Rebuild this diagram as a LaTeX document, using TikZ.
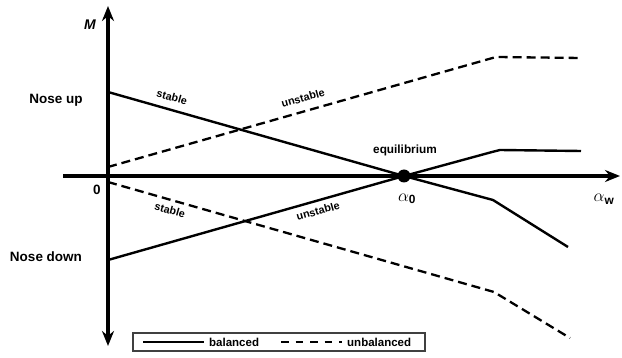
\documentclass[tikz,border=0pt]{standalone}
\usepackage{fontspec}
\setmainfont{Liberation Sans}
\usetikzlibrary{arrows.meta}
\begin{document}
\begin{tikzpicture}[x=1pt,y=-1pt,
  axis/.style={line width=3.4pt,-{Stealth[length=15pt,width=12pt]}},
  bal/.style={line width=2.4pt},
  unbal/.style={line width=2.3pt,dash pattern=on 9pt off 5pt},
  lbl/.style={font=\fontsize{10.8}{12}\selectfont\bfseries,inner sep=0pt},
  big/.style={font=\fontsize{13.5}{15}\selectfont\bfseries,inner sep=0pt},
  greek/.style={font=\fontsize{17}{18}\selectfont,inner sep=0pt}]
\useasboundingbox (0,0) rectangle (622,358);
% coordinates
\coordinate (O) at (108,176);
\coordinate (E) at (404,176);
\coordinate (xl) at (63,176);
\coordinate (xr) at (620,176);
\coordinate (yb) at (108,346);
\coordinate (yt) at (108,6);
\coordinate (su0) at (108,92);
\coordinate (su1) at (493,200);
\coordinate (su2) at (568,247);
\coordinate (uu0) at (108,260);
\coordinate (uu1) at (492,152);
\coordinate (uu2) at (500,150);
\coordinate (uu3) at (581,151);
\coordinate (du0) at (108,167);
\coordinate (du1) at (496,57);
\coordinate (du2) at (582,58);
\coordinate (dl0) at (108,182);
\coordinate (dl1) at (494,292);
\coordinate (dl2) at (570,338);
% axes
\draw[line width=3.4pt] (xl) -- (O);
\draw[axis] (O) -- (xr);
\draw[axis] (O) -- (yt);
\draw[axis] (O) -- (yb);
% curves
\draw[bal,line join=round] (su0) -- (E) -- (su1) -- (su2);
\draw[bal,line join=round] (uu0) -- (E) -- (uu1) -- (uu2) -- (uu3);
\draw[unbal,line join=round] (du0) -- (du1) -- (du2);
\draw[unbal,line join=round] (dl0) -- (dl1) -- (dl2);
\fill (E) circle (6.5pt);
% labels
\node[font=\fontsize{14}{15}\selectfont\bfseries\itshape,inner sep=0pt] (M) at (90,25) {M};
\node[big] (nu) at (56,100) {Nose up};
\node[big] (nd) at (46,257) {Nose down};
\node[big] (zero) at (97,190) {0};
\node[lbl,rotate=-15.8] (s1) at (172,97) {stable};
\node[lbl,rotate=15.8] (u1) at (303,98) {unstable};
\node[lbl,rotate=-15.8] (s2) at (170,210) {stable};
\node[lbl,rotate=15.8] (u2) at (318,211) {unstable};
\node[lbl,font=\fontsize{11.8}{13}\selectfont\bfseries] (eq) at (405,150) {equilibrium};
\node[greek] (a0) at (407,199) {$\alpha_{\mathbf{0}}$};
\node[greek] (aw) at (604,199) {$\alpha_{\mathbf{w}}$};
% legend
\node[draw=black!75,line width=1.4pt,minimum width=292pt,minimum height=18pt,inner sep=0pt] (leg) at (279,342) {};
\coordinate (l1a) at (143,342);
\coordinate (l1b) at (204,342);
\coordinate (l2a) at (281,342);
\coordinate (l2b) at (342,342);
\draw[line width=1.6pt] (l1a) -- (l1b);
\draw[line width=2.2pt,dash pattern=on 7.5pt off 7pt] (l2a) -- (l2b);
\node[lbl,font=\fontsize{11.5}{13}\selectfont\bfseries,anchor=west] (tb) at (209,342) {balanced};
\node[lbl,font=\fontsize{11.5}{13}\selectfont\bfseries,anchor=west] (tu) at (347,342) {unbalanced};
\end{tikzpicture}
\end{document}
